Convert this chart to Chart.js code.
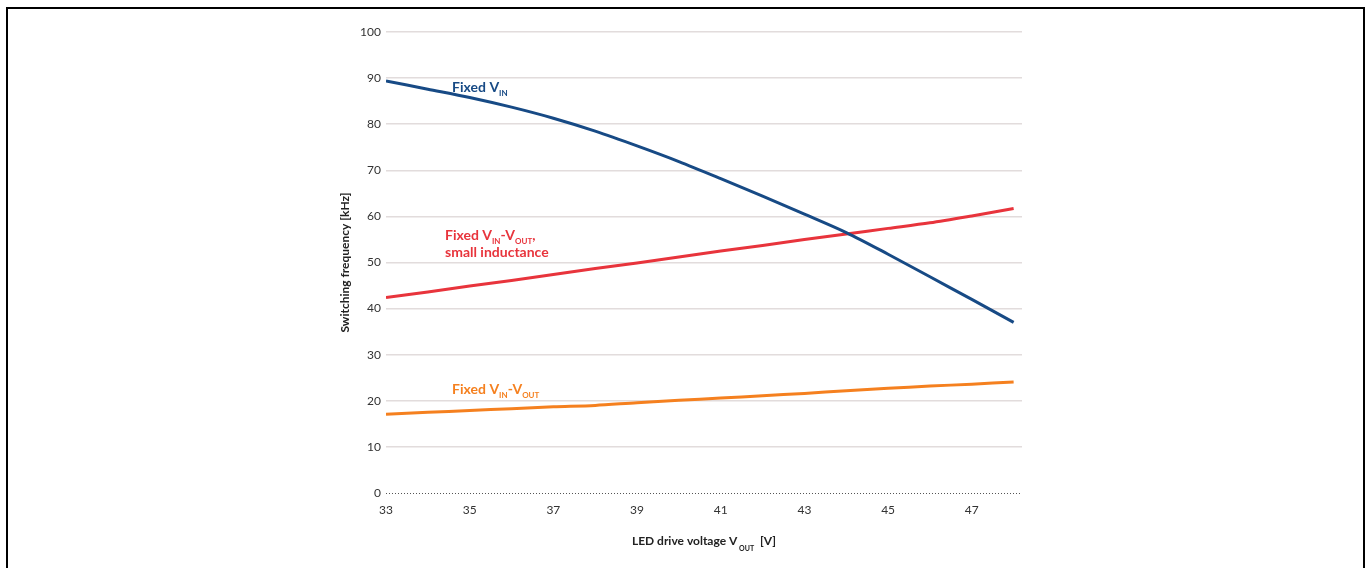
<!DOCTYPE html>
<html>
<head>
<meta charset="utf-8">
<script src="https://cdn.jsdelivr.net/npm/chart.js@4"></script>
<style>
  html, body { margin: 0; padding: 0; background: #fff; overflow: hidden; }
  #frame { position: absolute; left: 6px; top: 7px; width: 1355px; height: 600px; border: 2px solid #000; }
  #wrap { position: absolute; left: 0; top: 0; width: 1368px; height: 568px; }
</style>
</head>
<body>
<div id="frame"></div>
<div id="wrap"><canvas id="chart"></canvas></div>
<script>
// LED drive voltage V_OUT [V]
var voltages = [33, 34, 35, 36, 37, 38, 39, 40, 41, 42, 43, 44, 45, 46, 47, 48];
// switching frequency [kHz]
var fixedVin = [89.4, 87.6, 85.8, 83.7, 81.3, 78.5, 75.3, 71.9, 68.2, 64.4, 60.5, 56.5, 51.8, 46.9, 42.0, 37.0];
var fixedVinVoutSmallL = [42.4, 43.6, 44.9, 46.1, 47.4, 48.7, 49.9, 51.2, 52.5, 53.7, 55.0, 56.2, 57.4, 58.6, 60.1, 61.7];
var fixedVinVout = [17.1, 17.5, 17.9, 18.3, 18.7, 19.0, 19.6, 20.1, 20.6, 21.1, 21.6, 22.2, 22.7, 23.2, 23.6, 24.1];

var xTicks = [33, 35, 37, 39, 41, 43, 45, 47];
var yTicks = [0, 10, 20, 30, 40, 50, 60, 70, 80, 90, 100];

var BLUE = '#174a85';
var RED = '#e8343c';
var ORANGE = '#f5801f';
var FONT = 'Lato, "Open Sans", sans-serif';

function points(ys) {
  return voltages.map(function (v, i) { return { x: v, y: ys[i] }; });
}

// text pieces: [text, isSubscript]
var seriesLabels = [
  { x: 34.58, y: 88.1, color: BLUE, lines: [[['Fixed V', 0], ['IN', 1]]] },
  { x: 34.41, y: 56.0, color: RED, lines: [[['Fixed V', 0], ['IN', 1], ['-V', 0], ['OUT', 1], [',', 0]], [['small inductance', 0]]] },
  { x: 34.58, y: 22.6, color: ORANGE, lines: [[['Fixed V', 0], ['IN', 1], ['-V', 0], ['OUT', 1]]] }
];

function richWidth(ctx, parts, size) {
  var w = 0;
  parts.forEach(function (p) {
    ctx.font = 'bold ' + (p[1] ? Math.round(size * 0.6) : size) + 'px ' + FONT;
    w += ctx.measureText(p[0]).width;
  });
  return w;
}

function drawRich(ctx, parts, x, y, size, drop) {
  parts.forEach(function (p) {
    ctx.font = 'bold ' + (p[1] ? Math.round(size * 0.6) : size) + 'px ' + FONT;
    ctx.fillText(p[0], x, p[1] ? y + drop : y);
    x += ctx.measureText(p[0]).width;
  });
}

var labelPlugin = {
  id: 'labels',
  beforeDatasetsDraw: function (chart) {
    // dotted zero line
    var ctx = chart.ctx, ys = chart.scales.y, area = chart.chartArea;
    var y0 = Math.round(ys.getPixelForValue(0)) + 0.5;
    ctx.save();
    ctx.strokeStyle = '#555';
    ctx.lineWidth = 1;
    ctx.setLineDash([1, 2]);
    ctx.beginPath();
    ctx.moveTo(area.left, y0);
    ctx.lineTo(area.right, y0);
    ctx.stroke();
    ctx.restore();
  },
  afterDatasetsDraw: function (chart) {
    var ctx = chart.ctx, xs = chart.scales.x, ys = chart.scales.y, area = chart.chartArea;
    ctx.save();
    ctx.textBaseline = 'alphabetic';
    ctx.textAlign = 'left';
    seriesLabels.forEach(function (l) {
      ctx.fillStyle = l.color;
      l.lines.forEach(function (line, i) {
        drawRich(ctx, line, xs.getPixelForValue(l.x), ys.getPixelForValue(l.y) + 5 + i * 17, 14, 4);
      });
    });
    // axis titles
    ctx.fillStyle = '#222';
    var xt = [['LED drive voltage V', 0], [' OUT', 1], ['  [V]', 0]];
    var w = richWidth(ctx, xt, 12);
    drawRich(ctx, xt, (area.left + area.right) / 2 - w / 2, 545, 12, 6);
    ctx.translate(349, (area.top + area.bottom) / 2);
    ctx.rotate(-Math.PI / 2);
    var yt = [['Switching frequency [kHz]', 0]];
    w = richWidth(ctx, yt, 12);
    drawRich(ctx, yt, -w / 2, 0, 12, 0);
    ctx.restore();
  }
};

new Chart(document.getElementById('chart'), {
  type: 'line',
  data: {
    datasets: [
      { label: 'Fixed VIN', data: points(fixedVin), borderColor: BLUE },
      { label: 'Fixed VIN-VOUT, small inductance', data: points(fixedVinVoutSmallL), borderColor: RED },
      { label: 'Fixed VIN-VOUT', data: points(fixedVinVout), borderColor: ORANGE }
    ]
  },
  options: {
    responsive: true,
    maintainAspectRatio: false,
    animation: false,
    events: [],
    layout: { padding: { left: 300, right: 346, top: 32, bottom: 0 } },
    elements: {
      line: { borderWidth: 3, tension: 0.3, fill: false },
      point: { radius: 0 }
    },
    plugins: { legend: { display: false }, tooltip: { enabled: false } },
    scales: {
      x: {
        type: 'linear',
        min: 33,
        max: 48.2,
        afterBuildTicks: function (scale) { scale.ticks = xTicks.map(function (v) { return { value: v }; }); },
        afterFit: function (scale) { scale.height = 75; },
        grid: { display: false, drawTicks: false },
        border: { display: false },
        ticks: { padding: 10, maxRotation: 0, color: '#333', font: { family: FONT, size: 12 } }
      },
      y: {
        min: 0,
        max: 100,
        afterBuildTicks: function (scale) { scale.ticks = yTicks.map(function (v) { return { value: v }; }); },
        afterFit: function (scale) { scale.width = 86; },
        grid: {
          drawTicks: false,
          lineWidth: 1.5,
          color: function (c) { return c.tick && c.tick.value === 0 ? 'rgba(0,0,0,0)' : '#e2dcdc'; }
        },
        border: { display: false },
        ticks: { padding: 5, color: '#333', font: { family: FONT, size: 12 } }
      }
    }
  },
  plugins: [labelPlugin]
});
</script>
</body>
</html>
